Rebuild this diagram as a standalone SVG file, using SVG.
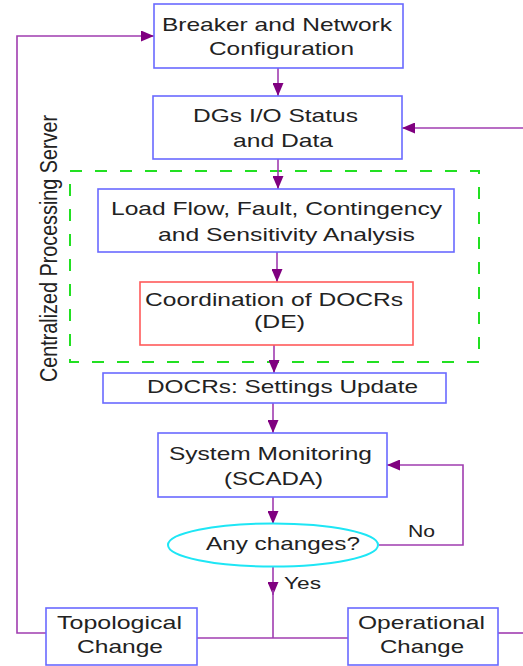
<svg xmlns="http://www.w3.org/2000/svg" width="523" height="666" viewBox="0 0 523 666">
<defs>
<marker id="ah" viewBox="0 0 13 11" refX="13" refY="5.5" markerUnits="userSpaceOnUse" markerWidth="13" markerHeight="11" orient="auto">
<path d="M0,0 L13,5.5 L0,11 Z" fill="#800080"/>
</marker>
<style>
.box{fill:#fff;stroke:#6a6aff;stroke-width:1.6}
.red{fill:#fff;stroke:#ff5a5a;stroke-width:1.6}
.ell{fill:#fff;stroke:#1ee6f5;stroke-width:2}
.t{font-family:"Liberation Sans",Arial,sans-serif;font-size:19px;fill:#222}
.s{font-family:"Liberation Sans",Arial,sans-serif;font-size:16.5px;fill:#222}
.ln{fill:none;stroke:#a03cb0;stroke-width:1.6}
.arr{fill:none;stroke:#a03cb0;stroke-width:1.6;marker-end:url(#ah)}
.grp{fill:none;stroke:#22e022;stroke-width:2;stroke-dasharray:12 13}
</style>
</defs>
<rect width="523" height="666" fill="#fff"/>

<g id="server-group">
<rect class="grp" x="70" y="171" width="409" height="191"/>
<text class="t" transform="translate(57,382) scale(1.25,1) rotate(-90)" x="0" y="0" textLength="267" lengthAdjust="spacingAndGlyphs">Centralized Processing Server</text>
</g>

<g id="connectors">
<path class="arr" d="M278,68 V96"/>
<path class="arr" d="M278,159 V189"/>
<path class="arr" d="M277,252 V282"/>
<path class="arr" d="M274,345 V373"/>
<path class="arr" d="M273,403 V433"/>
<path class="arr" d="M273,497 V524"/>
<path class="arr" d="M273,567 V595"/>
<path class="ln" d="M273,590 V638"/>
<path class="ln" d="M197,638 H348"/>
<path class="arr" d="M379,545 H463 V465 H387"/>
<path class="arr" d="M46,633 H17 V36 H154"/>
<path class="ln" d="M498,633 H523"/>
<path class="arr" d="M523,128 H402"/>
</g>

<g id="breaker">
<rect class="box" x="154" y="4" width="249" height="64"/>
<text class="t" x="162" y="31" textLength="230" lengthAdjust="spacingAndGlyphs">Breaker and Network</text>
<text class="t" x="209" y="55" textLength="145" lengthAdjust="spacingAndGlyphs">Configuration</text>
</g>

<g id="dgs">
<rect class="box" x="153" y="96" width="249" height="63"/>
<text class="t" x="193" y="122" textLength="165" lengthAdjust="spacingAndGlyphs">DGs I/O Status</text>
<text class="t" x="233" y="147" textLength="100" lengthAdjust="spacingAndGlyphs">and Data</text>
</g>

<g id="loadflow">
<rect class="box" x="98" y="189" width="356" height="63"/>
<text class="t" x="111" y="215" textLength="331" lengthAdjust="spacingAndGlyphs">Load Flow, Fault, Contingency</text>
<text class="t" x="158" y="241" textLength="257" lengthAdjust="spacingAndGlyphs">and Sensitivity Analysis</text>
</g>

<g id="coordination">
<rect class="red" x="140" y="282" width="273" height="63"/>
<text class="t" x="145" y="306" textLength="258" lengthAdjust="spacingAndGlyphs">Coordination of DOCRs</text>
<text class="t" x="254" y="328" textLength="51" lengthAdjust="spacingAndGlyphs">(DE)</text>
</g>

<g id="settings">
<rect class="box" x="103" y="373" width="343" height="30"/>
<text class="t" x="147" y="393" textLength="271" lengthAdjust="spacingAndGlyphs">DOCRs: Settings Update</text>
</g>

<g id="monitoring">
<rect class="box" x="158" y="433" width="229" height="64"/>
<text class="t" x="169" y="460" textLength="203" lengthAdjust="spacingAndGlyphs">System Monitoring</text>
<text class="t" x="224" y="485" textLength="99" lengthAdjust="spacingAndGlyphs">(SCADA)</text>
</g>

<g id="decision">
<ellipse class="ell" cx="273" cy="545" rx="105" ry="21.5"/>
<text class="t" x="206" y="550" textLength="154" lengthAdjust="spacingAndGlyphs">Any changes?</text>
</g>

<g id="labels">
<text class="s" x="408" y="537" textLength="27" lengthAdjust="spacingAndGlyphs">No</text>
<text class="s" x="284" y="589" textLength="37" lengthAdjust="spacingAndGlyphs">Yes</text>
</g>

<g id="topological">
<rect class="box" x="46" y="608" width="151" height="57"/>
<text class="t" x="57" y="629" textLength="125" lengthAdjust="spacingAndGlyphs">Topological</text>
<text class="t" x="77" y="653" textLength="86" lengthAdjust="spacingAndGlyphs">Change</text>
</g>

<g id="operational">
<rect class="box" x="348" y="608" width="150" height="57"/>
<text class="t" x="358" y="629" textLength="127" lengthAdjust="spacingAndGlyphs">Operational</text>
<text class="t" x="380" y="653" textLength="84" lengthAdjust="spacingAndGlyphs">Change</text>
</g>
</svg>
